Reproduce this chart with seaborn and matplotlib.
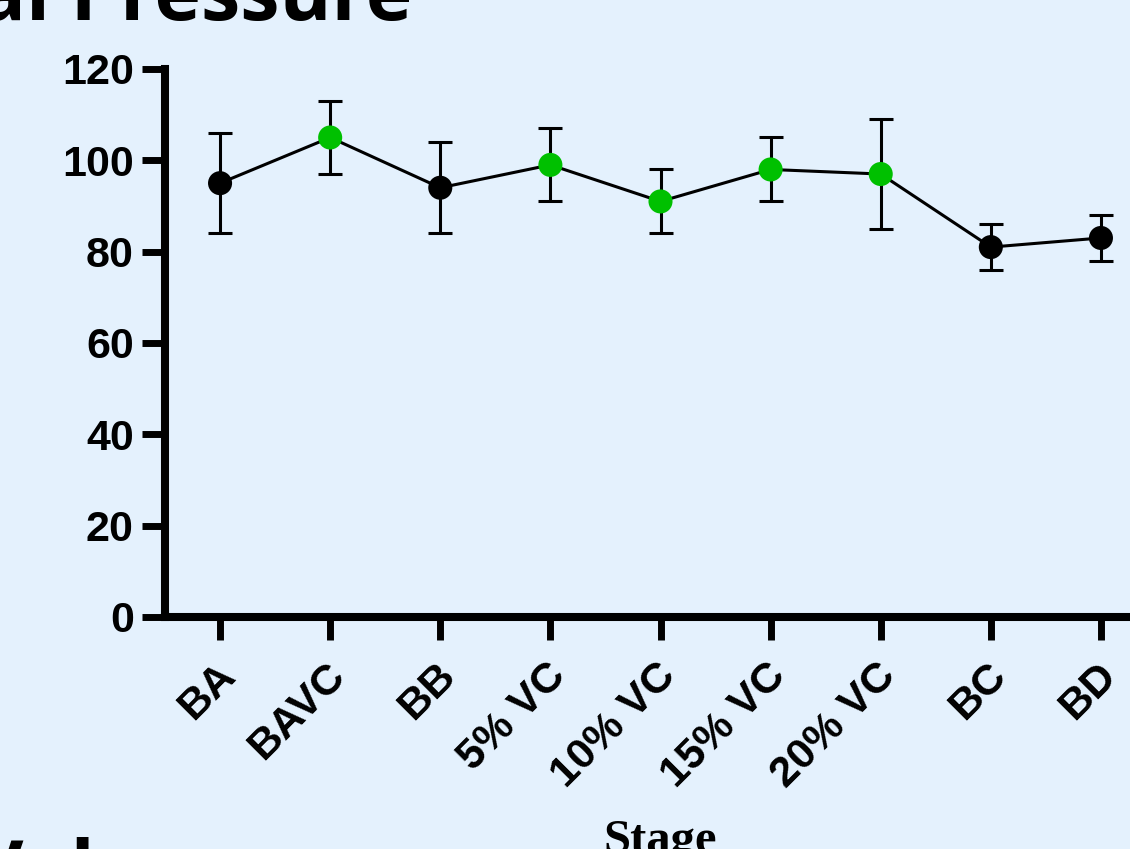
import matplotlib
matplotlib.use("Agg")
import matplotlib.pyplot as plt
import matplotlib.transforms as mtransforms
import seaborn as sns
import pandas as pd

# ---- data ----
stages = ["BA", "BAVC", "BB", "5% VC", "10% VC", "15% VC", "20% VC", "BC", "BD"]
mean_map = [95, 105, 94, 99, 91, 98, 97, 81, 83]
err_upper = [106, 113, 104, 107, 98, 105, 109, 86, 88]
err_lower = [84, 97, 84, 91, 84, 91, 85, 76, 78]
groups = ["Baseline", "VC", "Baseline", "VC", "VC", "VC", "VC", "Baseline", "Baseline"]
yticks = [0, 20, 40, 60, 80, 100, 120]

BG = "#E4F1FD"
GREEN = "#00C000"

sns.set_theme(style="ticks")
plt.rcParams["font.family"] = ["Liberation Sans", "DejaVu Sans"]
plt.rcParams["text.color"] = "black"

df = pd.DataFrame({
    "pos": range(len(stages)),
    "stage": stages,
    "map": mean_map,
    "hi": err_upper,
    "lo": err_lower,
    "group": groups,
})

W, H = 1130, 849
fig = plt.figure(figsize=(W / 100, H / 100), dpi=100, facecolor=BG)
ax = fig.add_axes([165 / W, 232 / H, 991 / W, 548 / H])
ax.set_facecolor(BG)

ax.errorbar(df["pos"], df["map"],
            yerr=[df["map"] - df["lo"], df["hi"] - df["map"]],
            fmt="none", ecolor="black", elinewidth=2.2, capsize=8.5,
            capthick=2.2, zorder=2)
sns.lineplot(data=df, x="pos", y="map", color="black", linewidth=2.2,
             ax=ax, zorder=3, errorbar=None)
sns.scatterplot(data=df, x="pos", y="map", hue="group",
                palette={"Baseline": "black", "VC": GREEN}, s=300,
                edgecolor="none", linewidth=0, ax=ax, zorder=4, legend=False)

ax.set_xlim(-0.5, 8.5)
ax.set_ylim(0, 120)
ax.set_yticks(yticks)
ax.set_yticklabels([str(v) for v in yticks], fontsize=31, fontweight="bold")
ax.set_xticks(list(df["pos"]))
ax.set_xticklabels(stages, rotation=45, ha="right", rotation_mode="anchor",
                   fontsize=31, fontweight="bold")
ax.set_ylabel("")

for s in ["top", "right"]:
    ax.spines[s].set_visible(False)
for s in ["left", "bottom"]:
    ax.spines[s].set_linewidth(5.8)
    ax.spines[s].set_color("black")
ax.tick_params(axis="both", length=16.5, width=5, color="black",
               labelcolor="black", pad=6, direction="out")
ax.tick_params(axis="x", pad=12)

offset = mtransforms.ScaledTranslation(-5 / 100, 1 / 100, fig.dpi_scale_trans)
for lbl in ax.get_xticklabels():
    lbl.set_transform(lbl.get_transform() + offset)

ax.set_xlabel("Stage", fontsize=35, fontweight="bold", color="black",
              family=["Liberation Serif", "DejaVu Serif"])
ax.xaxis.set_label_coords(0.5, -0.43)
ax.xaxis.label.set_va("baseline")

# cropped slide texts
fig.text(412 / W, 1 - 20 / H, "Mean Arterial Pressure", ha="right",
         va="baseline", fontsize=57, fontweight="bold", color="black",
         family=["Open Sans", "DejaVu Sans"])
fig.text(-28 / W, -48 / H, "Volume", ha="left", va="baseline",
         fontsize=57, fontweight="bold", color="black",
         family=["Open Sans", "DejaVu Sans"])

fig.savefig("out.png", dpi=100, facecolor=BG)
